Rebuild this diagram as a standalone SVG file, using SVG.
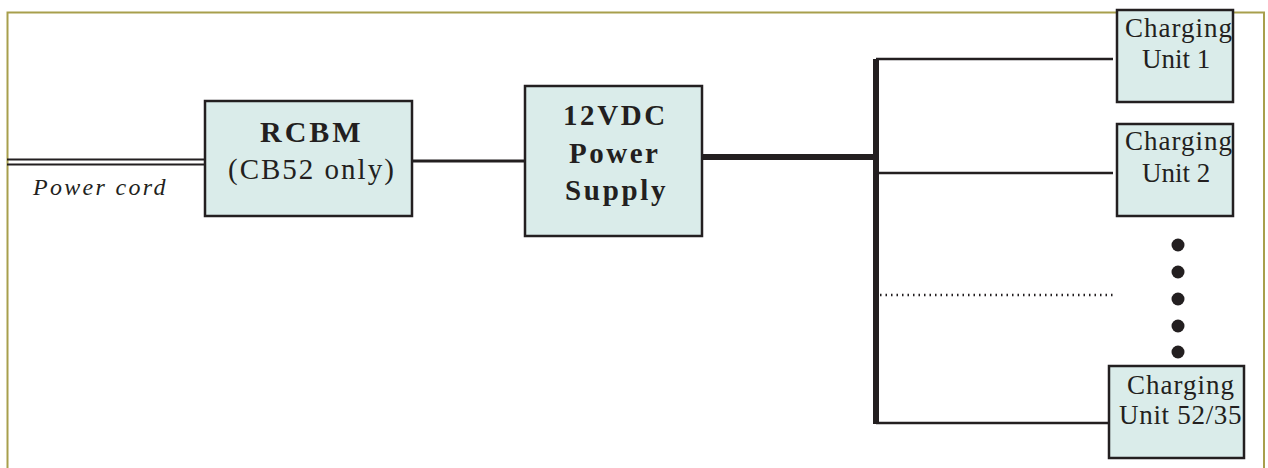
<svg xmlns="http://www.w3.org/2000/svg" width="1268" height="468" viewBox="0 0 1268 468">
<style>
.box{fill:#daecea;stroke:#231f20;stroke-width:2.5}
.t{font-family:"Liberation Serif","Times New Roman",serif;fill:#231f20}
.b{font-weight:bold}
.wire{stroke:#231f20;fill:none}
</style>
<rect x="0" y="0" width="1268" height="468" fill="#ffffff"/>
<path d="M7.5,480 V12.5 H1264 V480" fill="none" stroke="#a89f4c" stroke-width="2"/>
<g id="connectors">
<line class="wire" x1="7" y1="159.5" x2="205" y2="159.5" stroke-width="2"/>
<line class="wire" x1="7" y1="164.5" x2="205" y2="164.5" stroke-width="2"/>
<line class="wire" x1="412" y1="161" x2="525" y2="161" stroke-width="3"/>
<line class="wire" x1="702" y1="157" x2="876" y2="157" stroke-width="6"/>
<line class="wire" x1="876" y1="59" x2="876" y2="424" stroke-width="6"/>
<line class="wire" x1="876" y1="59" x2="1113" y2="59" stroke-width="2.5"/>
<line class="wire" x1="876" y1="173" x2="1113" y2="173" stroke-width="2.5"/>
<line class="wire" x1="880" y1="295" x2="1116" y2="295" stroke-width="2.5" stroke-dasharray="1.5,4"/>
<line class="wire" x1="876" y1="423" x2="1110" y2="423" stroke-width="2.5"/>
</g>
<text class="t" x="33" y="195" font-size="24" font-style="italic" letter-spacing="2.3">Power cord</text>
<g id="rcbm">
<rect class="box" x="205" y="101" width="207" height="115"/>
<text class="t b" x="260" y="142" font-size="30" letter-spacing="3">RCBM</text>
<text class="t" x="228" y="179" font-size="29" letter-spacing="2">(CB52 only)</text>
</g>
<g id="psu">
<rect class="box" x="525" y="86" width="177" height="150"/>
<text class="t b" x="563" y="125" font-size="29" letter-spacing="2.6">12VDC</text>
<text class="t b" x="569" y="163" font-size="29" letter-spacing="2.5">Power</text>
<text class="t b" x="565" y="200" font-size="29" letter-spacing="2.7">Supply</text>
</g>
<g id="unit1">
<rect class="box" x="1117" y="10" width="116" height="92"/>
<text class="t" x="1125" y="37" font-size="27" letter-spacing="1">Charging</text>
<text class="t" x="1142" y="68" font-size="27">Unit 1</text>
</g>
<g id="unit2">
<rect class="box" x="1117" y="124" width="116" height="92"/>
<text class="t" x="1125" y="150" font-size="27" letter-spacing="1">Charging</text>
<text class="t" x="1142" y="182" font-size="27">Unit 2</text>
</g>
<g id="dots" fill="#231f20">
<circle cx="1178" cy="245" r="6.5"/>
<circle cx="1178" cy="272" r="6.5"/>
<circle cx="1178" cy="299" r="6.5"/>
<circle cx="1178" cy="326" r="6.5"/>
<circle cx="1178" cy="352" r="6.5"/>
</g>
<g id="unit52">
<rect class="box" x="1109" y="366" width="135" height="92"/>
<text class="t" x="1127" y="394" font-size="27" letter-spacing="1">Charging</text>
<text class="t" x="1119" y="424" font-size="27" letter-spacing="0.7">Unit 52/35</text>
</g>
</svg>
